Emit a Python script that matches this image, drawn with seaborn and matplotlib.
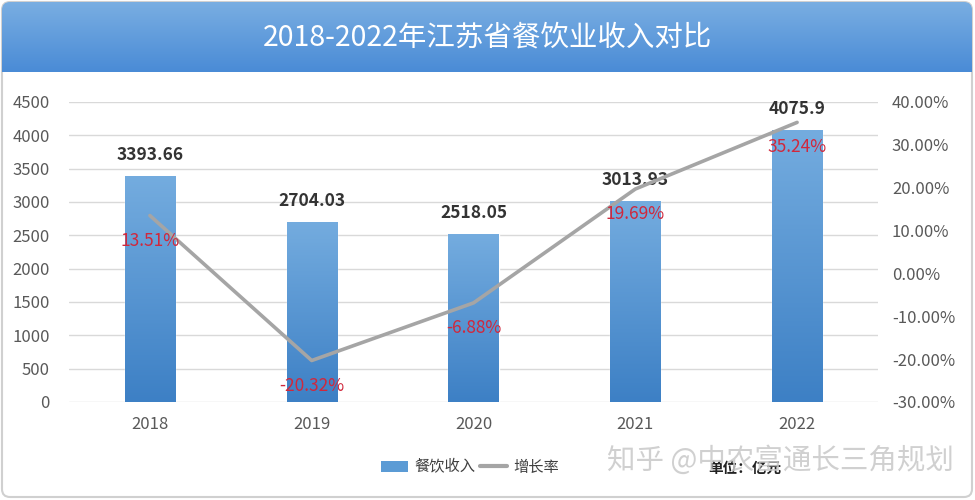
import numpy as np
import pandas as pd
import matplotlib
matplotlib.use("Agg")
import matplotlib.pyplot as plt
import seaborn as sns
from matplotlib.patches import FancyBboxPatch, Patch
from matplotlib.lines import Line2D
from matplotlib.colors import LinearSegmentedColormap

years = ["2018", "2019", "2020", "2021", "2022"]
income = [3393.66, 2704.03, 2518.05, 3013.93, 4075.9]
income_labels = ["3393.66", "2704.03", "2518.05", "3013.93", "4075.9"]
growth = [13.51, -20.32, -6.88, 19.69, 35.24]
left_ticks = list(range(0, 4501, 500))
right_ticks = list(range(-30, 41, 10))

sns.set_theme(style="white")
plt.rcParams['font.family'] = ['Noto Sans CJK SC', 'DejaVu Sans']

df = pd.DataFrame({"year": years, "income": income, "growth": growth})

W, H = 975, 500
fig = plt.figure(figsize=(W / 100, H / 100), dpi=100)

# outer frame + title banner
bg = fig.add_axes([0, 0, 1, 1])
bg.set_xlim(0, W)
bg.set_ylim(H, 0)
bg.axis("off")
frame = FancyBboxPatch((2, 2), W - 5, H - 5, boxstyle="round,pad=0,rounding_size=8",
                       fc="white", ec="#D0D0D0", lw=1.5)
bg.add_patch(frame)
# clip box is taller than the banner so only the top corners are rounded
banner = FancyBboxPatch((2, 2), W - 5, 100, boxstyle="round,pad=0,rounding_size=8",
                        fc="none", ec="none")
bg.add_patch(banner)
grad = np.linspace(0, 1, 100).reshape(-1, 1)
bcmap = LinearSegmentedColormap.from_list("b", ["#79AEE2", "#4A8BD6"])
im = bg.imshow(grad, extent=(2, W - 3, 72, 2), cmap=bcmap, aspect="auto", zorder=1)
im.set_clip_path(banner)
bg.set_xlim(0, W)
bg.set_ylim(H, 0)
bg.text(W / 2, 38, "2018-2022年江苏省餐饮业收入对比", color="white", fontsize=20.5,
        ha="center", va="center", zorder=3)

# main axes
x0, x1, y_top, y_bot = 69, 878, 102, 402
ax = fig.add_axes([x0 / W, (H - y_bot) / H, (x1 - x0) / W, (y_bot - y_top) / H])
ax.set_facecolor("none")
sns.barplot(data=df, x="year", y="income", color="#5B9BD5", width=0.31, ax=ax, zorder=2)
ax.set_yticks(left_ticks)
ax.set_xlabel("")
ax.set_ylabel("")
ax.grid(axis="y", color="#D9D9D9", lw=1)
ax.set_axisbelow(True)
for s in ax.spines.values():
    s.set_visible(False)
ax.tick_params(axis="both", colors="#595959", labelsize=12, length=0)
ax.tick_params(axis="x", pad=10)
ax.tick_params(axis="y", pad=14)

# gradient fill on bars
gcmap = LinearSegmentedColormap.from_list("g", ["#3D80C5", "#74ACDF"])
for p in list(ax.patches):
    bx, by = p.get_x(), p.get_y()
    bw, bh = p.get_width(), p.get_height()
    g = ax.imshow(np.linspace(0, 1, 100).reshape(-1, 1), extent=(bx, bx + bw, by, by + bh),
                  origin="lower", cmap=gcmap, aspect="auto", zorder=2)
    g.set_clip_path(p)
    p.set_facecolor("none")
ax.set_xlim(-0.5, 4.5)
ax.set_ylim(0, 4500)

for i, (v, lab) in enumerate(zip(income, income_labels)):
    ax.annotate(lab, (i, v), xytext=(0, 15), textcoords="offset points",
                ha="center", va="center", fontsize=12.5, color="#333333", fontweight="bold")

ax2 = ax.twinx()
sns.lineplot(x=np.arange(len(years)), y=growth, color="#A5A5A5", lw=2.6, ax=ax2, zorder=3)
ax2.set_ylim(-30, 40)
ax2.set_yticks(right_ticks)
ax2.set_yticklabels([f"{t:.2f}%" for t in right_ticks])
for s in ax2.spines.values():
    s.set_visible(False)
ax2.tick_params(axis="y", colors="#595959", labelsize=12, length=0, pad=10)
ax2.grid(False)
for i, g in enumerate(growth):
    ax2.annotate(f"{g:.2f}%", (i, g), xytext=(0, -18), textcoords="offset points",
                 ha="center", va="center", fontsize=12.5, color="#D0283C")

# legend
handles = [Patch(facecolor="#5B9BD5", edgecolor="none"),
           Line2D([0], [0], color="#A5A5A5", lw=3)]
fig.legend(handles, ["餐饮收入", "增长率"], loc="center", bbox_to_anchor=(470 / W, 1 - 467 / H),
           ncol=2, frameon=False, fontsize=11, handlelength=1.8, handletextpad=0.4,
           columnspacing=0.3, labelcolor="#404040")
bg.text(708, 468, "单位：亿元", fontsize=10.5, color="#222222", ha="left", va="center",
        fontweight="bold", zorder=4)
bg.text(607, 461, "知乎 @中农富通长三角规划", fontsize=20.5, color="#C8C8C8", alpha=0.85,
        ha="left", va="center", zorder=5)

fig.savefig("out.png", dpi=100)
